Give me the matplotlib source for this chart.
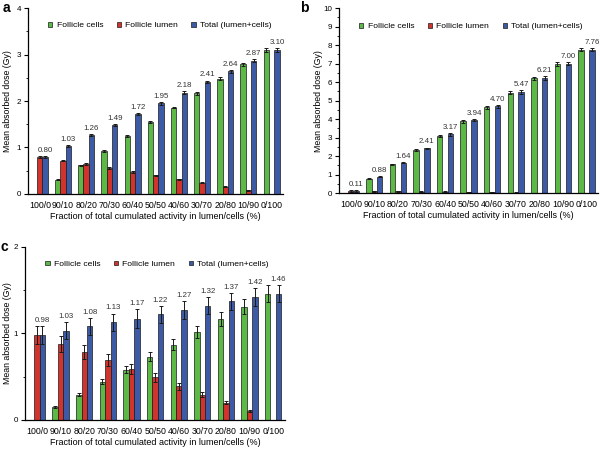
import numpy as np
import matplotlib
matplotlib.use('Agg')
import matplotlib.pyplot as plt
from matplotlib.ticker import MultipleLocator

plt.rcParams['font.family'] = ['Liberation Sans', 'DejaVu Sans']

groups = ['100/0', '90/10', '80/20', '70/30', '60/40', '50/50',
          '40/60', '30/70', '20/80', '10/90', '0/100']
series_names = ['Follicle cells', 'Follicle lumen', 'Total (lumen+cells)']

# panel a
a_cells = [0, 0.31, 0.62, 0.93, 1.24, 1.55, 1.86, 2.17, 2.48, 2.79, 3.10]
a_lumen = [0.80, 0.72, 0.64, 0.56, 0.48, 0.40, 0.32, 0.24, 0.16, 0.08, 0]
a_total = [0.80, 1.03, 1.26, 1.49, 1.72, 1.95, 2.18, 2.41, 2.64, 2.87, 3.10]
a_cells_err = [0, 0.01, 0.01, 0.02, 0.02, 0.02, 0.02, 0.03, 0.03, 0.03, 0.04]
a_lumen_err = [0.02, 0.02, 0.02, 0.02, 0.02, 0.01, 0.01, 0.01, 0.01, 0.01, 0]
a_total_err = [0.02, 0.02, 0.02, 0.02, 0.03, 0.03, 0.03, 0.03, 0.03, 0.04, 0.04]

# panel b
b_cells = [0, 0.78, 1.55, 2.33, 3.10, 3.88, 4.65, 5.43, 6.20, 6.98, 7.76]
b_lumen = [0.11, 0.10, 0.09, 0.08, 0.07, 0.06, 0.04, 0.03, 0.02, 0.01, 0]
b_total = [0.11, 0.88, 1.64, 2.41, 3.17, 3.94, 4.70, 5.47, 6.21, 7.00, 7.76]
b_cells_err = [0, 0.03, 0.04, 0.05, 0.06, 0.07, 0.08, 0.09, 0.10, 0.10, 0.10]
b_lumen_err = [0.03, 0.03, 0.02, 0.02, 0.02, 0.01, 0.01, 0.01, 0.01, 0.01, 0]
b_total_err = [0.03, 0.03, 0.04, 0.05, 0.06, 0.07, 0.08, 0.09, 0.10, 0.10, 0.10]

# panel c
c_cells = [0, 0.15, 0.29, 0.44, 0.58, 0.73, 0.87, 1.02, 1.17, 1.31, 1.46]
c_lumen = [0.98, 0.88, 0.78, 0.69, 0.59, 0.49, 0.39, 0.29, 0.20, 0.10, 0]
c_total = [0.98, 1.03, 1.08, 1.13, 1.17, 1.22, 1.27, 1.32, 1.37, 1.42, 1.46]
c_cells_err = [0, 0.01, 0.02, 0.03, 0.04, 0.05, 0.06, 0.07, 0.08, 0.09, 0.10]
c_lumen_err = [0.10, 0.09, 0.08, 0.07, 0.06, 0.05, 0.04, 0.03, 0.02, 0.01, 0]
c_total_err = [0.10, 0.10, 0.10, 0.10, 0.11, 0.10, 0.10, 0.10, 0.10, 0.10, 0.10]

colors = ['#5cb946', '#d0342c', '#3d5aa6']


def panel(ax, vals, errs, ymax, tag, tag_x, ylab_x, legend_y):
    x = np.arange(len(groups))
    w = 0.23
    for i, (v, e) in enumerate(zip(vals, errs)):
        ax.bar(x + (i - 1) * w, v, w, color=colors[i], edgecolor='#1a1a1a',
               linewidth=0.5, label=series_names[i],
               yerr=e, error_kw=dict(ecolor='#1a1a1a', elinewidth=0.7,
                                     capsize=1.6, capthick=0.7))
    for xi, t, e in zip(x, vals[2], errs[2]):
        ax.annotate(f'{t:.2f}', (xi + w, t + e), xytext=(0, 1.5),
                    textcoords='offset points', ha='center', va='bottom',
                    fontsize=5.7, color='#333333')
    ax.set_xlim(-0.5, len(groups) - 0.5)
    ax.set_ylim(0, ymax)
    ax.set_xticks(x)
    ax.set_xticklabels(groups, fontsize=6.3)
    ax.tick_params(axis='x', length=0, pad=5)
    ax.tick_params(axis='y', labelsize=5.8, length=3, width=0.8, pad=2)
    ax.tick_params(axis='y', which='minor', length=1.5, width=0.6)
    ax.yaxis.set_major_locator(MultipleLocator(1))
    ax.yaxis.set_minor_locator(MultipleLocator(0.5))
    for s in ['top', 'right']:
        ax.spines[s].set_visible(False)
    ax.spines['left'].set_linewidth(0.9)
    ax.spines['bottom'].set_linewidth(0.9)
    ax.set_ylabel('Mean absorbed dose (Gy)', fontsize=6.3)
    ax.yaxis.set_label_coords(ylab_x, 0.5)
    ax.set_xlabel('Fraction of total cumulated activity in lumen/cells (%)',
                  fontsize=6.5, labelpad=1.5)
    ax.legend(loc='center left', bbox_to_anchor=(0.065, legend_y), ncol=3,
              frameon=False, fontsize=6.1, handlelength=0.5, handleheight=0.5,
              handletextpad=0.5, columnspacing=1.6, borderaxespad=0)
    ax.text(tag_x, 1.0, tag, transform=ax.transAxes, fontsize=10,
            fontweight='bold', ha='left', va='center')


fig = plt.figure(figsize=(6, 4.49), dpi=100)

ax_a = fig.add_axes([0.047, 0.568, 0.425, 0.414])
panel(ax_a, [a_cells, a_lumen, a_total],
      [a_cells_err, a_lumen_err, a_total_err], 4, 'a', -0.1, -0.062, 0.905)

ax_b = fig.add_axes([0.565, 0.570, 0.432, 0.412])
panel(ax_b, [b_cells, b_lumen, b_total],
      [b_cells_err, b_lumen_err, b_total_err], 10, 'b', -0.15, -0.062, 0.9)

ax_c = fig.add_axes([0.042, 0.065, 0.433, 0.385])
panel(ax_c, [c_cells, c_lumen, c_total],
      [c_cells_err, c_lumen_err, c_total_err], 2, 'c', -0.095, -0.05, 0.9)

fig.savefig('out.png', dpi=100)
